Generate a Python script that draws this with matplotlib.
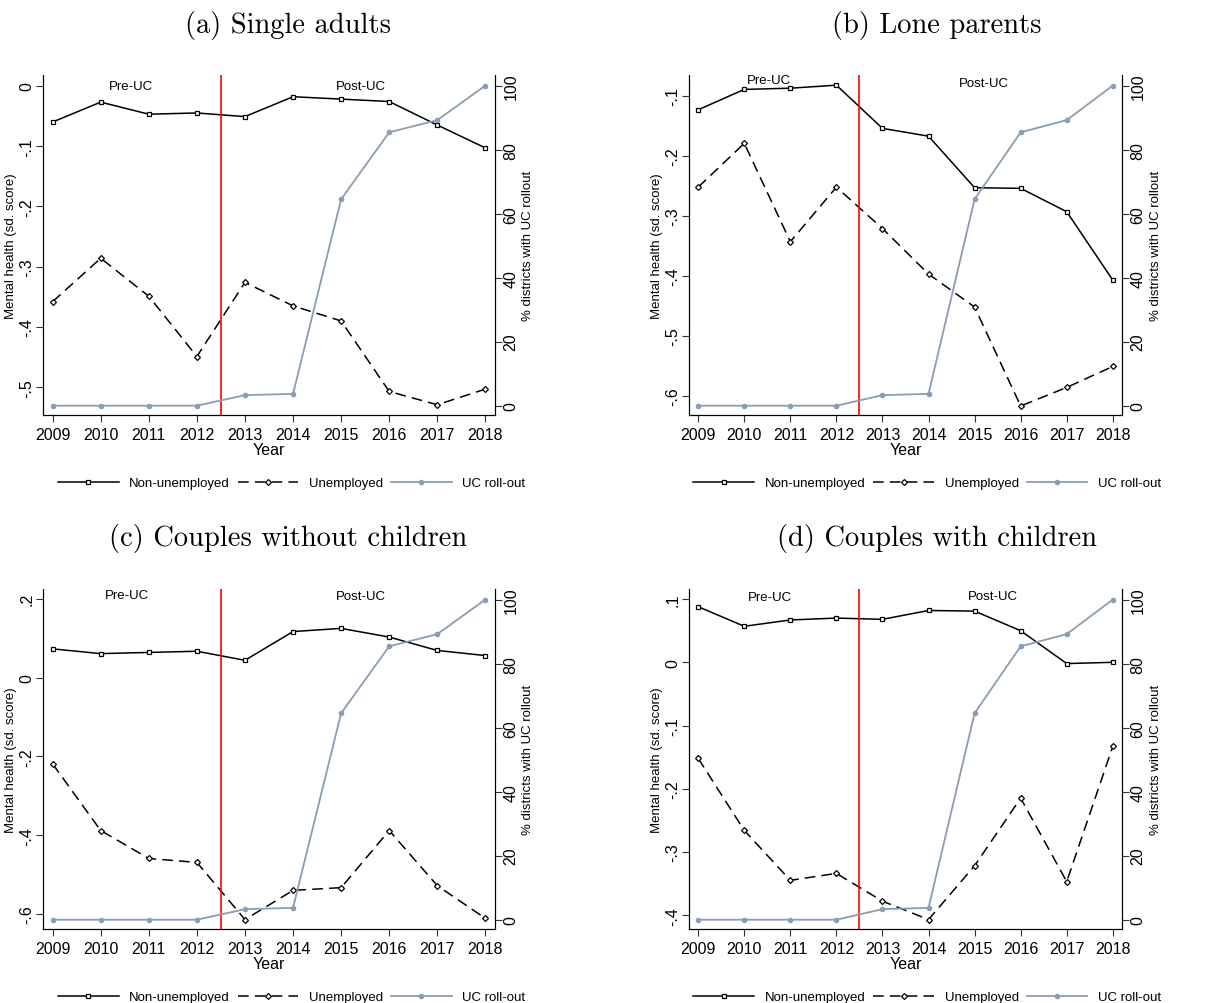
"""
Mental health of unemployed vs non-unemployed, with UC roll-out, by family type.
"""

import matplotlib.pyplot as plt
from matplotlib.ticker import FuncFormatter

plt.rcParams['font.family'] = ['Liberation Sans', 'DejaVu Sans']
plt.rcParams['font.size'] = 10

# ---- data ----
years = [2009, 2010, 2011, 2012, 2013, 2014, 2015, 2016, 2017, 2018]
uc_rollout = [0, 0, 0, 0, 3.3, 3.7, 64.5, 85.4, 89.2, 100]

titles = ['(a) Single adults', '(b) Lone parents',
          '(c) Couples without children', '(d) Couples with children']

nonunemp_single = [-0.060, -0.027, -0.047, -0.045, -0.051, -0.018, -0.022, -0.026, -0.065, -0.103]
unemp_single = [-0.358, -0.286, -0.349, -0.449, -0.326, -0.365, -0.390, -0.507, -0.529, -0.503]

nonunemp_lone = [-0.123, -0.089, -0.087, -0.082, -0.154, -0.167, -0.253, -0.254, -0.293, -0.407]
unemp_lone = [-0.252, -0.179, -0.343, -0.252, -0.321, -0.397, -0.452, -0.617, -0.586, -0.551]

nonunemp_couple = [0.073, 0.061, 0.064, 0.067, 0.044, 0.117, 0.125, 0.103, 0.069, 0.056]
unemp_couple = [-0.219, -0.388, -0.459, -0.469, -0.614, -0.540, -0.533, -0.388, -0.528, -0.611]

nonunemp_couple_kids = [0.088, 0.057, 0.067, 0.070, 0.068, 0.082, 0.081, 0.050, -0.002, 0.000]
unemp_couple_kids = [-0.152, -0.266, -0.345, -0.334, -0.378, -0.407, -0.322, -0.215, -0.347, -0.133]

left_ticks = [
    [0, -0.1, -0.2, -0.3, -0.4, -0.5],
    [-0.1, -0.2, -0.3, -0.4, -0.5, -0.6],
    [0.2, 0, -0.2, -0.4, -0.6],
    [0.1, 0, -0.1, -0.2, -0.3, -0.4],
]
left_lims = [(-0.546, 0.018), (-0.632, -0.065), (-0.638, 0.225), (-0.422, 0.116)]
right_ticks = [0, 20, 40, 60, 80, 100]

ROLL_COL = '#8a9db5'

# label positions (x in years, y in axes fraction)
pre_pos = [(2010.63, 0.969), (2010.53, 0.985), (2010.55, 0.981), (2010.55, 0.975)]
post_pos = [(2015.42, 0.969), (2015.2, 0.977), (2015.42, 0.979), (2015.4, 0.979)]


def stata_fmt(v, pos):
    if abs(v) < 1e-9:
        return '0'
    s = f'{v:.1f}'
    return s.replace('0.', '.')


W, H = 1225, 1004
fig = plt.figure(figsize=(W / 100, H / 100), dpi=100)

# axes boxes in pixels: left, top, right, bottom
boxes = [(43, 76, 495, 416), (689, 76, 1122, 416),
         (43, 590, 495, 930), (689, 590, 1122, 930)]
title_xy = [(288, 25), (937, 25), (288, 539), (937, 539)]

nonunemp_all = [nonunemp_single, nonunemp_lone, nonunemp_couple, nonunemp_couple_kids]
unemp_all = [unemp_single, unemp_lone, unemp_couple, unemp_couple_kids]

for i in range(4):
    l, t, r, b = boxes[i]
    ax = fig.add_axes([l / W, 1 - b / H, (r - l) / W, (b - t) / H])
    ax2 = ax.twinx()

    h1, = ax.plot(years, nonunemp_all[i], color='black', lw=1.1, marker='s', ms=3.3,
                  mfc='white', mec='black', mew=0.9, label='Non-unemployed')
    h2, = ax.plot(years, unemp_all[i], color='black', lw=1.1, ls=(0, (7, 4)), marker='D',
                  ms=3.0, mfc='white', mec='black', mew=0.9, label='Unemployed')
    ax.axvline(2012.5, color='red', lw=1.2)
    h3, = ax2.plot(years, uc_rollout, color=ROLL_COL, lw=1.3, marker='o', ms=3.0,
                   mfc=ROLL_COL, mec=ROLL_COL, label='UC roll-out')

    ax.set_xlim(2008.8, 2018.2)
    ax.set_xticks(years)
    ax.set_ylim(*left_lims[i])
    ax.set_yticks(left_ticks[i])
    ax.yaxis.set_major_formatter(FuncFormatter(stata_fmt))
    ax2.set_ylim(-2.9, 103.3)
    ax2.set_yticks(right_ticks)

    for a in (ax, ax2):
        a.spines['top'].set_visible(False)
        a.tick_params(labelsize=11.5, length=5, width=0.8, color='#333333')
    ax.tick_params(axis='y', labelrotation=90, pad=1)
    ax2.tick_params(axis='y', labelrotation=90, pad=1)
    for lab in ax.get_yticklabels() + ax2.get_yticklabels():
        lab.set_va('center')

    ax.set_xlabel('Year', fontsize=11.5, labelpad=0)
    ax.set_ylabel('Mental health (sd. score)', fontsize=9.5, labelpad=2)
    ax2.set_ylabel('% districts with UC rollout', fontsize=9.5, labelpad=3)

    ax.text(pre_pos[i][0], pre_pos[i][1], 'Pre-UC', transform=ax.get_xaxis_transform(),
            ha='center', va='center', fontsize=9.5)
    ax.text(post_pos[i][0], post_pos[i][1], 'Post-UC', transform=ax.get_xaxis_transform(),
            ha='center', va='center', fontsize=9.5)

    ax.legend([h1, h2, h3], ['Non-unemployed', 'Unemployed', 'UC roll-out'],
              loc='center', bbox_to_anchor=(0.55, -0.2), ncol=3, frameon=False,
              fontsize=9.5, handlelength=4.6, columnspacing=0.6, handletextpad=0.8)

    fig.text(title_xy[i][0] / W, 1 - title_xy[i][1] / H, titles[i], family='cmr10',
             fontsize=20.5, ha='center', va='center')

plt.savefig('out.png', dpi=100, facecolor='white')
